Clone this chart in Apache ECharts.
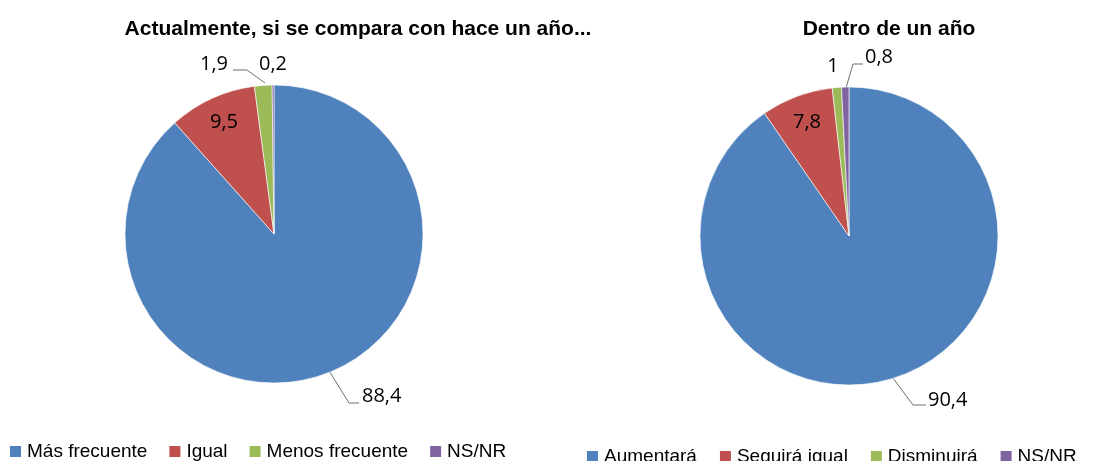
<!DOCTYPE html>
<html>
<head>
<meta charset="utf-8">
<script src="https://cdn.jsdelivr.net/npm/echarts@6/dist/echarts.min.js"></script>
<style>
html, body { margin: 0; padding: 0; background: #fff; }
#main { width: 1120px; height: 461px; }
</style>
</head>
<body>
<div id="main"></div>
<script>
const leftTitle = 'Actualmente, si se compara con hace un año...'
const rightTitle = 'Dentro de un año'
const leftCategories = ['Más frecuente', 'Igual', 'Menos frecuente', 'NS/NR']
const leftValues = [88.4, 9.5, 1.9, 0.2]
const rightCategories = ['Aumentará', 'Seguirá igual', 'Disminuirá', 'NS/NR']
const rightValues = [90.4, 7.8, 1, 0.8]
const colors = ['#4f81bd', '#c0504d', '#9bbb59', '#8064a2']

// label placement, by slice index
const leftLabels = [
  { x: 362, y: 396, align: 'left', line: [[328, 369], [349, 403], [359, 403]] },
  { x: 224, y: 122, align: 'center' },
  { x: 214, y: 64, align: 'center', line: [[265, 83], [247, 70], [233, 70]] },
  { x: 273, y: 64, align: 'center' }
]
const rightLabels = [
  { x: 928, y: 400, align: 'left', line: [[893, 378], [913, 405], [926, 405]] },
  { x: 807, y: 122, align: 'center' },
  { x: 833, y: 66, align: 'center' },
  { x: 865, y: 57, align: 'left', line: [[846, 88], [853, 64], [863, 64]] }
]

const fmt = (v) => String(v).replace('.', ',')

function buildData (cats, vals, labels) {
  return cats.map((name, i) => ({
    name,
    value: vals[i],
    itemStyle: { color: colors[i] },
    label: { position: i === 1 ? 'inside' : 'outside' },
    labelLine: { show: !!labels[i].line }
  }))
}

function layoutFn (labels) {
  return function (params) {
    const l = labels[params.dataIndex]
    const out = { x: l.x, y: l.y, align: l.align, verticalAlign: 'middle' }
    if (l.line) out.labelLinePoints = l.line
    return out
  }
}

function pieSeries (cats, vals, labels, center) {
  return {
    type: 'pie',
    radius: 149,
    center,
    startAngle: 90,
    clockwise: true,
    avoidLabelOverlap: false,
    animation: false,
    itemStyle: { borderColor: '#ffffff', borderWidth: 0.6 },
    label: {
      show: true,
      color: '#000',
      fontFamily: 'Open Sans',
      fontSize: 20,
      formatter: (p) => fmt(p.value)
    },
    labelLine: {
      show: true,
      lineStyle: { color: '#6e6e6e', width: 1 }
    },
    labelLayout: layoutFn(labels),
    emphasis: { disabled: true },
    data: buildData(cats, vals, labels)
  }
}

const legendText = { fontFamily: 'Liberation Sans', fontSize: 19, color: '#000' }
const titleText = { fontFamily: 'Liberation Sans', fontWeight: 'bold', fontSize: 21, color: '#000' }

const chart = echarts.init(document.getElementById('main'), null, { renderer: 'canvas' })
chart.setOption({
  title: [
    { text: leftTitle, left: 353, top: 14, textAlign: 'center', textStyle: titleText },
    { text: rightTitle, left: 884, top: 14, textAlign: 'center', textStyle: titleText }
  ],
  legend: [
    {
      data: leftCategories,
      left: 3,
      top: 437,
      icon: 'rect',
      itemWidth: 13,
      itemHeight: 13,
      itemGap: 20,
      textStyle: legendText,
      selectedMode: false
    },
    {
      data: rightCategories,
      left: 580,
      top: 442,
      icon: 'rect',
      itemWidth: 13,
      itemHeight: 13,
      itemGap: 21,
      textStyle: legendText,
      selectedMode: false
    }
  ],
  series: [
    pieSeries(leftCategories, leftValues, leftLabels, [274, 234]),
    pieSeries(rightCategories, rightValues, rightLabels, [849, 236])
  ]
})
</script>
</body>
</html>
